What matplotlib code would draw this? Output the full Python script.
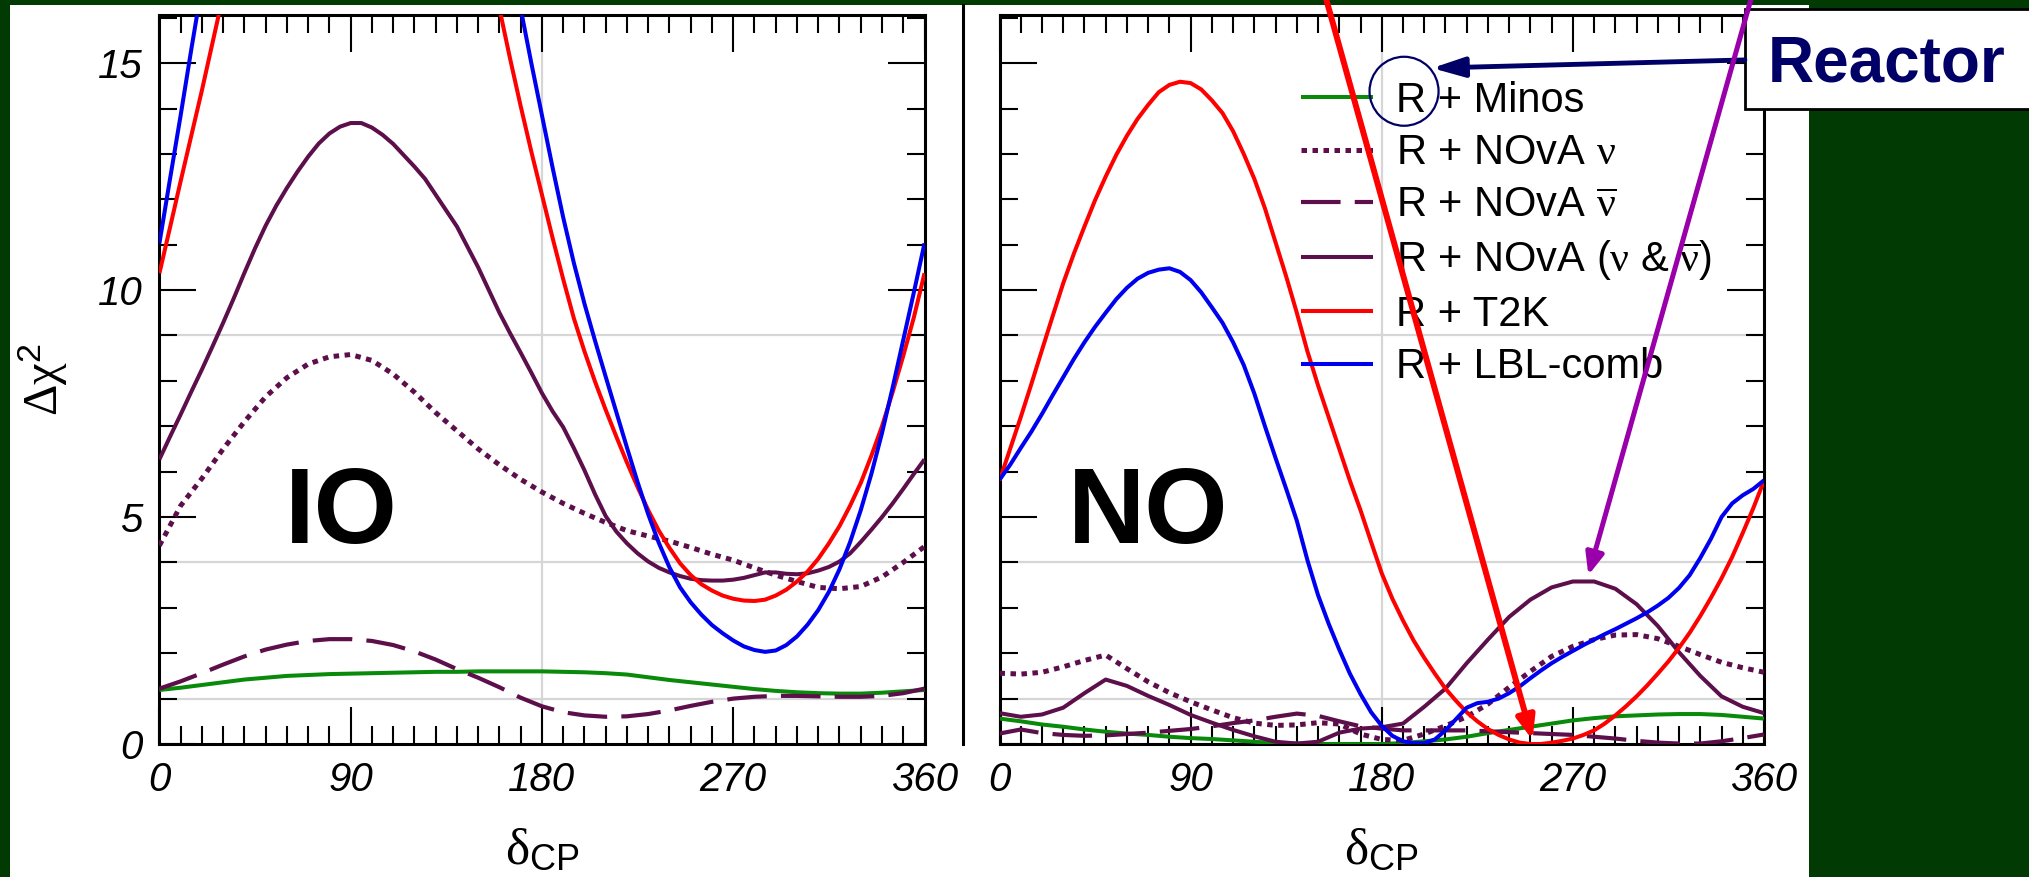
import numpy as np
import matplotlib
matplotlib.use('Agg')
import matplotlib.pyplot as plt
from matplotlib.patches import Rectangle, Ellipse
from matplotlib.lines import Line2D

plt.rcParams['font.family'] = ['Liberation Sans', 'DejaVu Sans']
plt.rcParams['mathtext.fontset'] = 'custom'
plt.rcParams['mathtext.rm'] = 'Liberation Serif'
plt.rcParams['mathtext.it'] = 'Liberation Serif:italic'
plt.rcParams['mathtext.bf'] = 'Liberation Serif:bold'
plt.rcParams['mathtext.sf'] = 'Liberation Sans'

# ── Data ──────────────────────────────────────────────────────────────────────
nan = np.nan
# 10 degree grid (flat curves)
DELTA_CP = [0, 10, 20, 30, 40, 50, 60, 70, 80, 90, 100, 110, 120, 130, 140, 150,
            160, 170, 180, 190, 200, 210, 220, 230, 240, 250, 260, 270, 280, 290,
            300, 310, 320, 330, 340, 350, 360]
# 5 degree grid (steep curves)
DELTA_CP_FINE = [0, 5, 10, 15, 20, 25, 30, 35, 40, 45, 50, 55, 60, 65, 70, 75, 80,
                 85, 90, 95, 100, 105, 110, 115, 120, 125, 130, 135, 140, 145, 150,
                 155, 160, 165, 170, 175, 180, 185, 190, 195, 200, 205, 210, 215,
                 220, 225, 230, 235, 240, 245, 250, 255, 260, 265, 270, 275, 280,
                 285, 290, 295, 300, 305, 310, 315, 320, 325, 330, 335, 340, 345,
                 350, 355, 360]

# inverted ordering (IO)
IO_MINOS = [1.19, 1.24, 1.30, 1.36, 1.42, 1.46, 1.50, 1.52, 1.54, 1.55, 1.56, 1.57,
            1.58, 1.59, 1.59, 1.60, 1.60, 1.60, 1.60, 1.59, 1.58, 1.56, 1.53, 1.47,
            1.41, 1.36, 1.31, 1.26, 1.21, 1.17, 1.14, 1.12, 1.11, 1.11, 1.13, 1.16, 1.19]
IO_NOVA_NU = [4.37, 5.25, 5.85, 6.50, 7.10, 7.65, 8.07, 8.37, 8.53, 8.58, 8.45, 8.15,
              7.75, 7.30, 6.90, 6.50, 6.15, 5.83, 5.55, 5.30, 5.08, 4.88, 4.70, 4.58,
              4.47, 4.33, 4.18, 4.05, 3.88, 3.72, 3.58, 3.45, 3.42, 3.47, 3.68, 4.00, 4.35]
IO_NOVA_NUBAR = [1.22, 1.38, 1.56, 1.75, 1.93, 2.08, 2.19, 2.27, 2.31, 2.31, 2.27, 2.18,
                 2.04, 1.86, 1.65, 1.46, 1.25, 1.02, 0.83, 0.70, 0.63, 0.60, 0.61, 0.66,
                 0.74, 0.84, 0.93, 1.00, 1.04, 1.06, 1.06, 1.05, 1.04, 1.04, 1.06, 1.12, 1.22]
IO_NOVA_BOTH = [6.27, 6.77, 7.26, 7.76, 8.25, 8.76, 9.28, 9.82, 10.38, 10.92, 11.42,
                11.86, 12.25, 12.61, 12.94, 13.23, 13.45, 13.60, 13.68, 13.68, 13.58,
                13.42, 13.22, 12.97, 12.72, 12.45, 12.10, 11.75, 11.40, 10.95, 10.50,
                10.00, 9.50, 9.05, 8.62, 8.18, 7.73, 7.33, 6.98, 6.52, 6.03, 5.50, 5.02,
                4.68, 4.42, 4.20, 4.02, 3.88, 3.78, 3.70, 3.64, 3.61, 3.60, 3.60, 3.62,
                3.66, 3.72, 3.78, 3.78, 3.75, 3.74, 3.76, 3.82, 3.90, 4.02, 4.20, 4.45,
                4.72, 5.00, 5.30, 5.62, 5.95, 6.27]
IO_T2K = [10.37, 11.38, 12.40, 13.40, 14.40, 15.45, 16.50, 17.60,
          nan, nan, nan, nan, nan, nan, nan, nan, nan, nan, nan, nan, nan, nan,
          nan, nan, nan, nan, nan, nan, nan, nan,
          18.50, 17.30, 16.20, 15.10, 14.05, 13.05, 12.10, 11.15, 10.24, 9.38, 8.65,
          7.98, 7.36, 6.77, 6.20, 5.66, 5.15, 4.70, 4.32, 3.98, 3.72, 3.52, 3.38,
          3.27, 3.20, 3.16, 3.15, 3.18, 3.27, 3.40, 3.58, 3.80, 4.08, 4.42, 4.80,
          5.25, 5.75, 6.35, 7.00, 7.75, 8.55, 9.40, 10.37]
IO_LBL = [11.03, 12.45, 13.85, 15.30, 16.70, 18.10,
          nan, nan, nan, nan, nan, nan, nan, nan, nan, nan, nan, nan, nan, nan,
          nan, nan, nan, nan, nan, nan, nan, nan, nan, nan, nan, nan, nan,
          17.50, 16.20, 15.00, 13.85, 12.70, 11.60, 10.60, 9.70, 8.88, 8.09, 7.31,
          6.53, 5.77, 5.06, 4.43, 3.89, 3.45, 3.12, 2.85, 2.62, 2.44, 2.28, 2.15,
          2.07, 2.03, 2.06, 2.18, 2.37, 2.63, 2.95, 3.35, 3.85, 4.45, 5.15, 5.95,
          6.85, 7.85, 8.90, 9.95, 11.03]

# normal ordering (NO)
NO_MINOS = [0.56, 0.50, 0.43, 0.38, 0.32, 0.27, 0.23, 0.20, 0.16, 0.13, 0.11, 0.08,
            0.05, 0.02, 0.01, 0.00, 0.00, 0.00, 0.00, 0.02, 0.06, 0.10, 0.16, 0.24,
            0.31, 0.38, 0.45, 0.52, 0.57, 0.61, 0.63, 0.65, 0.66, 0.66, 0.64, 0.60, 0.56]
NO_NOVA_NU = [1.56, 1.54, 1.58, 1.70, 1.84, 1.96, 1.66, 1.37, 1.13, 0.93, 0.75, 0.58,
              0.46, 0.41, 0.42, 0.47, 0.44, 0.22, 0.10, 0.08, 0.22, 0.40, 0.60, 0.88,
              1.25, 1.60, 1.93, 2.15, 2.30, 2.40, 2.41, 2.32, 2.15, 1.97, 1.80, 1.68, 1.58]
NO_NOVA_NUBAR = [0.23, 0.32, 0.24, 0.20, 0.18, 0.19, 0.22, 0.25, 0.29, 0.33, 0.39, 0.46,
                 0.52, 0.60, 0.67, 0.62, 0.50, 0.39, 0.34, 0.30, 0.30, 0.30, 0.30, 0.28,
                 0.26, 0.24, 0.22, 0.20, 0.16, 0.12, 0.07, 0.03, 0.01, 0.01, 0.06, 0.13, 0.21]
NO_NOVA_BOTH = [0.68, 0.60, 0.65, 0.80, 1.12, 1.42, 1.28, 1.06, 0.86, 0.64, 0.47, 0.31,
                0.17, 0.05, 0.01, 0.05, 0.25, 0.34, 0.37, 0.45, 0.82, 1.22, 1.78, 2.30,
                2.80, 3.18, 3.45, 3.58, 3.58, 3.42, 3.08, 2.60, 2.02, 1.50, 1.05, 0.82, 0.68]
NO_T2K = [5.80, 6.50, 7.20, 7.93, 8.68, 9.42, 10.15, 10.80, 11.40, 11.98, 12.50, 12.98,
          13.40, 13.77, 14.08, 14.36, 14.52, 14.59, 14.56, 14.42, 14.18, 13.90, 13.50,
          13.00, 12.45, 11.80, 11.05, 10.30, 9.50, 8.65, 7.90, 7.20, 6.50, 5.80, 5.15,
          4.45, 3.76, 3.20, 2.72, 2.28, 1.90, 1.55, 1.22, 0.95, 0.70, 0.50, 0.33, 0.20,
          0.10, 0.03, 0.00, 0.00, 0.03, 0.07, 0.12, 0.20, 0.30, 0.45, 0.63, 0.83, 1.05,
          1.29, 1.55, 1.82, 2.12, 2.45, 2.82, 3.22, 3.65, 4.12, 4.65, 5.20, 5.80]
NO_LBL = [5.82, 6.15, 6.52, 6.88, 7.27, 7.68, 8.08, 8.48, 8.85, 9.19, 9.50, 9.80, 10.05,
          10.25, 10.38, 10.45, 10.48, 10.40, 10.22, 9.95, 9.62, 9.28, 8.85, 8.35, 7.72,
          7.00, 6.30, 5.62, 4.92, 4.05, 3.28, 2.65, 2.08, 1.55, 1.10, 0.70, 0.40, 0.18,
          0.06, 0.02, 0.02, 0.10, 0.30, 0.55, 0.80, 0.90, 0.93, 1.00, 1.12, 1.27, 1.45,
          1.62, 1.78, 1.92, 2.05, 2.18, 2.30, 2.42, 2.53, 2.65, 2.77, 2.90, 3.05, 3.22,
          3.44, 3.72, 4.10, 4.52, 5.00, 5.30, 5.48, 5.62, 5.81]

LEGEND_LABELS = ['R + Minos',
                 r'R + NOvA $\mathrm{\nu}$',
                 r'R + NOvA $\overline{\mathrm{\nu}}$',
                 r'R + NOvA ($\mathrm{\nu}$ & $\overline{\mathrm{\nu}}$)',
                 'R + T2K',
                 'R + LBL-comb']
SIGMA_LEVELS = [1, 4, 9]
XTICKS = [0, 90, 180, 270, 360]
YTICKS = [0, 5, 10, 15]

# ── Styles ────────────────────────────────────────────────────────────────────
BG = '#023a04'
PURPLE = '#5c0f4a'
NAVY = '#000066'
GRID = '#d6d6d6'
STYLES = [
    dict(color='#0a8a0a', lw=2.9, ls='-'),
    dict(color=PURPLE, lw=3.6, ls=(0, (1.1, 1.1))),
    dict(color=PURPLE, lw=3.0, ls=(0, (9.5, 3.4))),
    dict(color=PURPLE, lw=2.9, ls='-'),
    dict(color='#ff0000', lw=2.9, ls='-'),
    dict(color='#0000f0', lw=2.9, ls='-'),
]

W, H = 2029, 877
fig = plt.figure(figsize=(W / 100, H / 100), dpi=100, facecolor=BG)


def px_box(x0, y0, x1, y1):
    return [x0 / W, 1 - y1 / H, (x1 - x0) / W, (y1 - y0) / H]


fig.add_artist(Rectangle((10 / W, 0), (1809 - 10) / W, 1 - 5 / H,
                         transform=fig.transFigure, fc='white', ec='none', zorder=-10))
fig.add_artist(Line2D([963 / W, 963 / W], [1 - 744 / H, 1 - 5 / H],
                      transform=fig.transFigure, color='black', lw=2.2))

ax_io = fig.add_axes(px_box(159.4, 15, 924.5, 744))
ax_no = fig.add_axes(px_box(999.5, 15, 1764, 744))

X = DELTA_CP
XF = DELTA_CP_FINE
panels = [
    (ax_io, [(X, IO_MINOS), (X, IO_NOVA_NU), (X, IO_NOVA_NUBAR),
             (XF, IO_NOVA_BOTH), (XF, IO_T2K), (XF, IO_LBL)]),
    (ax_no, [(X, NO_MINOS), (X, NO_NOVA_NU), (X, NO_NOVA_NUBAR),
             (X, NO_NOVA_BOTH), (XF, NO_T2K), (XF, NO_LBL)]),
]

handles = []
for ax, series in panels:
    ax.set_xlim(0, 360)
    ax.set_ylim(0, 16.06)
    for lvl in SIGMA_LEVELS:
        ax.axhline(lvl, color=GRID, lw=1.6, zorder=1)
    ax.axvline(180, color=GRID, lw=1.6, zorder=1)
    handles = []
    for (xs, vals), st in zip(series, STYLES):
        ln, = ax.plot(xs, vals, color=st['color'], lw=st['lw'], linestyle=st['ls'],
                      solid_capstyle='butt', dash_capstyle='butt',
                      solid_joinstyle='round', zorder=3)
        handles.append(ln)
    ax.set_xticks(XTICKS)
    ax.set_xticklabels([str(t) for t in XTICKS], fontstyle='italic')
    ax.set_xticks(range(0, 361, 10), minor=True)
    ax.set_yticks(YTICKS)
    ax.set_yticks(range(0, 17), minor=True)
    ax.set_yticklabels([str(t) for t in YTICKS], fontstyle='italic')
    ax.tick_params(which='both', direction='in', top=True, right=True, width=1.5,
                   labelsize=29, pad=12, colors='black')
    ax.tick_params(which='major', length=26.5)
    ax.tick_params(which='minor', length=13)
    for sp in ax.spines.values():
        sp.set_linewidth(2.2)
    ax.set_xlabel(r'$\mathrm{\delta}_{\mathsf{CP}}$', fontsize=37)
    ax.xaxis.set_label_coords(0.5, -0.112)

ax_no.tick_params(labelleft=False)
ax_io.set_ylabel(r'$\mathrm{\Delta\chi}^{\mathsf{2}}$', fontsize=35)
ax_io.yaxis.set_label_coords(-0.117, 0.5)

ax_io.text(85.5, 4.43, 'IO', fontsize=77, fontweight='bold', ha='center', va='baseline')
ax_no.text(70, 4.43, 'NO', fontsize=77, fontweight='bold', ha='center', va='baseline')

ax_no.legend(handles, LEGEND_LABELS, loc='upper left', bbox_to_anchor=(0.394, 0.9095),
             frameon=False, fontsize=30, handlelength=1.73, handletextpad=0.55,
             labelspacing=0.3, borderpad=0, borderaxespad=0)

# ── Annotations ───────────────────────────────────────────────────────────────
ax_no.add_artist(Rectangle((1745 / W, 1 - 109 / H), (2060 - 1745) / W, (109 - 9) / H,
                           transform=fig.transFigure, fc='white', ec='black', lw=2,
                           zorder=7, clip_on=False))
ax_no.text(1768 / W, 1 - 82 / H, 'Reactor', transform=fig.transFigure, fontsize=46,
           fontweight='bold', color=NAVY, ha='left', va='baseline', zorder=8)
ax_no.add_patch(Ellipse((190.5, 14.38), 32.5, 1.52, fill=False, ec=NAVY, lw=1.6,
                        zorder=9, clip_on=False))
ax_no.annotate('', xy=(203.7, 14.89), xytext=(351.0, 15.07), zorder=9,
               arrowprops=dict(arrowstyle='-|>,head_length=0.65,head_width=0.2',
                               color=NAVY, lw=3.5, shrinkA=0, shrinkB=0,
                               mutation_scale=30))
ax_no.annotate('', xy=(251.0, 0.09), xytext=(153.3, 16.5), zorder=10,
               arrowprops=dict(arrowstyle='-|>,head_length=0.45,head_width=0.18',
                               color='#ff0000', lw=4.3, shrinkA=0, shrinkB=0,
                               mutation_scale=30))
ax_no.annotate('', xy=(277.3, 3.72), xytext=(354.4, 16.5), zorder=10,
               arrowprops=dict(arrowstyle='-|>,head_length=0.43,head_width=0.18',
                               color='#9900aa', lw=3.6, shrinkA=0, shrinkB=0,
                               mutation_scale=30))

fig.savefig('out.png', dpi=100, facecolor=BG)
